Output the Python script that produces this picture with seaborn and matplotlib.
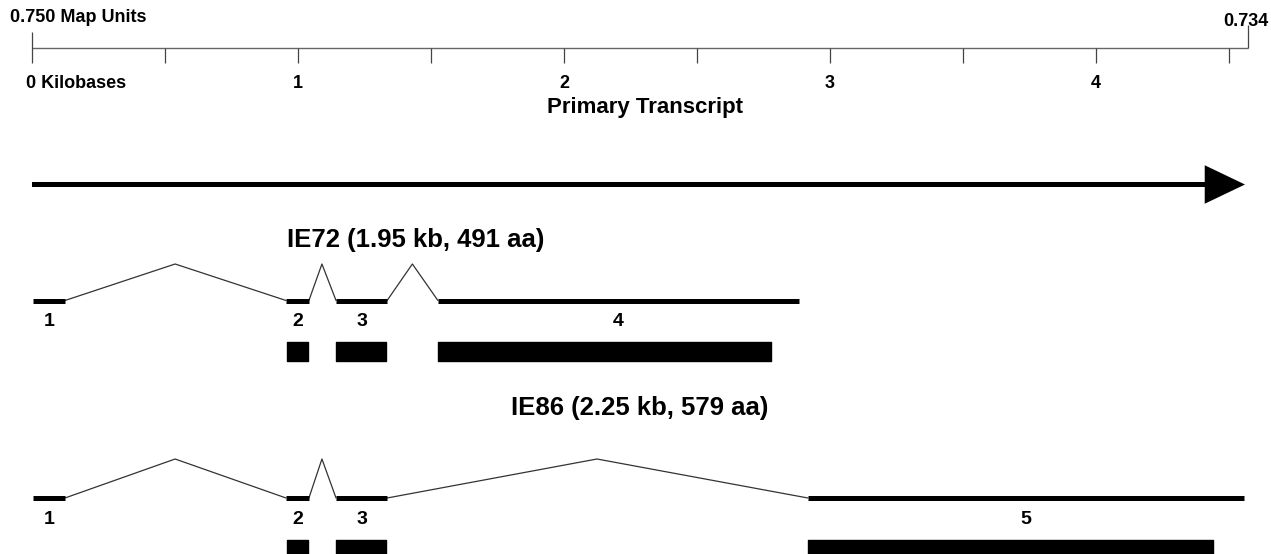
import numpy as np
import pandas as pd
import seaborn as sns
import matplotlib.pyplot as plt
from matplotlib.patches import FancyArrowPatch

# scale bar (kilobases)
scale_ticks_kb = [0, 0.5, 1, 1.5, 2, 2.5, 3, 3.5, 4, 4.5]
scale_labels = ["0 Kilobases", "", "1", "", "2", "", "3", "", "4", ""]
scale_end_kb = 4.57
map_units = ["0.750 Map Units", "0.734"]

# primary transcript
transcript_kb = [0, 4.56]

# IE72 transcript
ie72_exons = [(0.004, 0.124), (0.955, 1.041), (1.143, 1.335), (1.526, 2.883)]
ie72_exon_labels = ["1", "2", "3", "4"]
ie72_peaks = [0.538, 1.09, 1.43]
ie72_cds = [(0.959, 1.038), (1.143, 1.331), (1.526, 2.778)]
ie72_title = "IE72 (1.95 kb, 491 aa)"

# IE86 transcript
ie86_exons = [(0.004, 0.124), (0.955, 1.041), (1.143, 1.335), (2.917, 4.556)]
ie86_exon_labels = ["1", "2", "3", "5"]
ie86_peaks = [0.538, 1.09, 2.124]
ie86_cds = [(0.959, 1.038), (1.143, 1.331), (2.917, 4.44)]
ie86_title = "IE86 (2.25 kb, 579 aa)"

sns.set_theme(style="white")
plt.rcParams["font.family"] = ["Liberation Sans", "DejaVu Sans"]

PX_PER_KB = 266
X0 = 32
W, H = 1271, 554

fig = plt.figure(figsize=(W / 100, H / 100), dpi=100)
ax = fig.add_axes([0, 0, 1, 1])


def kb(px):
    return (px - X0) / PX_PER_KB


def draw_transcript(exons, labels, peaks, cds, title, title_x, ys):
    y_exon, y_peak, y_lab, y_box, box_h, y_title = ys
    # introns drawn as chevrons between exons
    rows = []
    for i, pk in enumerate(peaks):
        rows += [(i, exons[i][1], y_exon), (i, pk, y_peak), (i, exons[i + 1][0], y_exon)]
    df = pd.DataFrame(rows, columns=["intron", "kb", "y"])
    sns.lineplot(data=df, x="kb", y="y", units="intron", estimator=None, sort=False,
                 color="#333333", lw=0.9, ax=ax, legend=False)
    # exons
    for (s, e), lab in zip(exons, labels):
        ax.hlines(y_exon, s, e, color="black", lw=3.6)
        ax.text((s + e) / 2, y_lab, lab, ha="center", va="center",
                fontsize=14, fontweight="bold", color="black")
    # coding regions
    ax.broken_barh([(s, e - s) for s, e in cds], (y_box, box_h), color="black")
    ax.text(title_x, y_title, title, ha="center", va="center",
            fontsize=18.5, fontweight="bold", color="black")


# scale bar
ax.hlines(48, scale_ticks_kb[0], scale_end_kb, color="#666666", lw=1)
ax.vlines(scale_ticks_kb[1:], 48, 63, color="#444444", lw=0.9)
ax.vlines(scale_ticks_kb[0], 32, 63, color="#444444", lw=0.9)
ax.vlines(scale_end_kb, 25, 48, color="#444444", lw=0.9)
for t, lab in zip(scale_ticks_kb, scale_labels):
    if lab == "":
        continue
    if t == 0:
        ax.text(kb(26), 84, lab, ha="left", va="center", fontsize=13,
                fontweight="bold", color="black")
    else:
        ax.text(t, 84, lab, ha="center", va="center", fontsize=13,
                fontweight="bold", color="black")
ax.text(kb(10), 18, map_units[0], ha="left", va="center", fontsize=13,
        fontweight="bold", color="black")
ax.text(kb(1268), 21, map_units[1], ha="right", va="center", fontsize=13,
        fontweight="bold", color="black")

# primary transcript arrow
ax.text(kb(645), 108, "Primary Transcript", ha="center", va="center",
        fontsize=16, fontweight="bold", color="black")
arrow = FancyArrowPatch((transcript_kb[0], 184.5), (transcript_kb[1], 184.5),
                        arrowstyle="-|>,head_length=23,head_width=11",
                        mutation_scale=1, lw=3.6, color="black",
                        shrinkA=0, shrinkB=0, joinstyle="miter", capstyle="butt")
ax.add_patch(arrow)

draw_transcript(ie72_exons, ie72_exon_labels, ie72_peaks, ie72_cds, ie72_title,
                kb(416), (300.5, 264, 321, 342, 19, 240))
draw_transcript(ie86_exons, ie86_exon_labels, ie86_peaks, ie86_cds, ie86_title,
                kb(640), (498, 459, 519, 540, 20, 408))

ax.set_xlim(kb(0), kb(W))
ax.set_ylim(H, 0)
ax.axis("off")

plt.savefig("out.png", dpi=100)
